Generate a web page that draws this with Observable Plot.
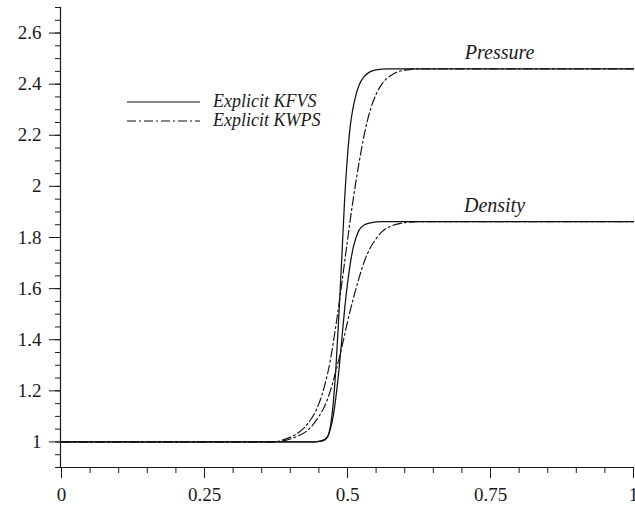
<!DOCTYPE html>
<html>
<head>
<meta charset="utf-8">
<script src="https://cdn.jsdelivr.net/npm/d3@7"></script>
<script src="https://cdn.jsdelivr.net/npm/@observablehq/plot@0.6"></script>
<style>
  html, body { margin: 0; padding: 0; background: white; }
  #wrap { position: relative; width: 635px; height: 508px; }
  #legend { position: absolute; left: 0; top: 0; pointer-events: none; }
</style>
</head>
<body>
<div id="wrap"></div>
<script>
// ---- data ----
const xMajor = [0, 0.25, 0.5, 0.75, 1];
const xLabels = ["0", "0.25", "0.5", "0.75", "1"];
const xMinor = [0, 0.05, 0.1, 0.15, 0.2, 0.25, 0.3, 0.35, 0.4, 0.45, 0.5, 0.55, 0.6, 0.65, 0.7, 0.75, 0.8, 0.85, 0.9, 0.95, 1];
const yMajor = [1, 1.2, 1.4, 1.6, 1.8, 2, 2.2, 2.4, 2.6];
const yLabels = ["1", "1.2", "1.4", "1.6", "1.8", "2", "2.2", "2.4", "2.6"];
const yMinor = [0.9, 0.95, 1, 1.05, 1.1, 1.15, 1.2, 1.25, 1.3, 1.35, 1.4, 1.45, 1.5, 1.55, 1.6, 1.65, 1.7, 1.75, 1.8, 1.85, 1.9, 1.95, 2, 2.05, 2.1, 2.15, 2.2, 2.25, 2.3, 2.35, 2.4, 2.45, 2.5, 2.55, 2.6, 2.65, 2.7];

// Explicit KFVS (solid)
const kfvsPressureX = [0, 0.44, 0.455, 0.465, 0.47, 0.475, 0.48, 0.485, 0.49, 0.495, 0.5, 0.505, 0.51, 0.515, 0.52, 0.53, 0.54, 0.55, 0.57, 1];
const kfvsPressureY = [1, 1, 1.003, 1.02, 1.06, 1.15, 1.3, 1.5, 1.72, 1.95, 2.12, 2.24, 2.31, 2.36, 2.395, 2.432, 2.449, 2.456, 2.46, 2.46];
const kfvsDensityX = [0, 0.44, 0.455, 0.465, 0.47, 0.475, 0.48, 0.485, 0.49, 0.495, 0.5, 0.505, 0.51, 0.515, 0.52, 0.53, 0.54, 0.56, 1];
const kfvsDensityY = [1, 1, 1.005, 1.02, 1.05, 1.1, 1.18, 1.28, 1.4, 1.52, 1.62, 1.7, 1.76, 1.8, 1.828, 1.85, 1.857, 1.862, 1.862];
// Explicit KWPS (dash-dot)
const kwpsPressureX = [0, 0.37, 0.39, 0.41, 0.43, 0.45, 0.46, 0.47, 0.48, 0.49, 0.5, 0.51, 0.52, 0.53, 0.54, 0.55, 0.56, 0.58, 0.6, 0.63, 1];
const kwpsPressureY = [1, 1, 1.01, 1.03, 1.07, 1.15, 1.22, 1.32, 1.46, 1.62, 1.79, 1.95, 2.09, 2.21, 2.3, 2.36, 2.4, 2.44, 2.455, 2.46, 2.46];
const kwpsDensityX = [0, 0.37, 0.39, 0.41, 0.43, 0.45, 0.46, 0.47, 0.48, 0.49, 0.5, 0.51, 0.52, 0.53, 0.54, 0.55, 0.56, 0.58, 0.6, 0.63, 1];
const kwpsDensityY = [1, 1, 1.005, 1.02, 1.045, 1.1, 1.14, 1.2, 1.28, 1.37, 1.47, 1.56, 1.64, 1.71, 1.76, 1.795, 1.822, 1.848, 1.858, 1.862, 1.862];

const curveLabels = ["Pressure", "Density"];
const curveLabelX = [0.766, 0.757];
const curveLabelY = [2.522, 1.925];

const seriesNames = ["Explicit KFVS", "Explicit KWPS"];

// ---- build tables ----
const toRows = (xs, ys) => xs.map((x, i) => ({x, y: ys[i]}));
const solidSets = [toRows(kfvsPressureX, kfvsPressureY), toRows(kfvsDensityX, kfvsDensityY)];
const dashSets = [toRows(kwpsPressureX, kwpsPressureY), toRows(kwpsDensityX, kwpsDensityY)];
const labelRows = curveLabels.map((t, i) => ({t, x: curveLabelX[i], y: curveLabelY[i]}));

const DASH = "9,3,2,3";
const FONT = "'Liberation Serif', 'Times New Roman', serif";

const chart = Plot.plot({
  width: 635,
  height: 508,
  marginLeft: 61,
  marginRight: 2,
  marginTop: 7,
  marginBottom: 41,
  x: {domain: [0, 1]},
  y: {domain: [0.9, 2.7]},
  style: {fontFamily: FONT, fontSize: "19px", color: "#1a1a1a", background: "white"},
  marks: [
    Plot.axisX(xMinor, {tickSize: 6, tickFormat: () => "", label: null, strokeWidth: 1}),
    Plot.axisX(xMajor, {tickSize: 11, tickPadding: 9, tickFormat: d => xLabels[xMajor.indexOf(d)], label: null, fontSize: 19, strokeWidth: 1}),
    Plot.axisY(yMinor, {tickSize: 6, tickFormat: () => "", label: null, strokeWidth: 1}),
    Plot.axisY(yMajor, {tickSize: 12, tickPadding: 8, tickFormat: d => yLabels[yMajor.indexOf(d)], label: null, fontSize: 19, strokeWidth: 1}),
    Plot.ruleX([0], {stroke: "#1a1a1a", strokeWidth: 1.2, dx: -1}),
    Plot.ruleY([0.9], {stroke: "#1a1a1a", strokeWidth: 1.2}),
    ...solidSets.map(d => Plot.line(d, {x: "x", y: "y", stroke: "#111", strokeWidth: 1.25, curve: "monotone-x"})),
    ...dashSets.map(d => Plot.line(d, {x: "x", y: "y", stroke: "#111", strokeWidth: 1.15, strokeDasharray: DASH, curve: "monotone-x"})),
    Plot.text(labelRows, {x: "x", y: "y", text: "t", fontStyle: "italic", fontSize: 20, fill: "#1a1a1a", fontFamily: FONT})
  ]
});

const wrap = document.getElementById("wrap");
wrap.appendChild(chart);

// legend overlay
const ns = "http://www.w3.org/2000/svg";
const leg = document.createElementNS(ns, "svg");
leg.setAttribute("id", "legend");
leg.setAttribute("width", 635);
leg.setAttribute("height", 508);
const styles = [null, DASH];
seriesNames.forEach((name, i) => {
  const yy = 102 + i * 19;
  const ln = document.createElementNS(ns, "line");
  ln.setAttribute("x1", 127); ln.setAttribute("x2", 200);
  ln.setAttribute("y1", yy); ln.setAttribute("y2", yy);
  ln.setAttribute("stroke", "#111");
  ln.setAttribute("stroke-width", 1.15);
  if (styles[i]) ln.setAttribute("stroke-dasharray", styles[i]);
  leg.appendChild(ln);
  const tx = document.createElementNS(ns, "text");
  tx.setAttribute("x", 213); tx.setAttribute("y", yy + 5);
  tx.setAttribute("font-family", FONT);
  tx.setAttribute("font-style", "italic");
  tx.setAttribute("font-size", 18);
  tx.setAttribute("fill", "#1a1a1a");
  tx.textContent = name;
  leg.appendChild(tx);
});
wrap.appendChild(leg);
</script>
</body>
</html>
